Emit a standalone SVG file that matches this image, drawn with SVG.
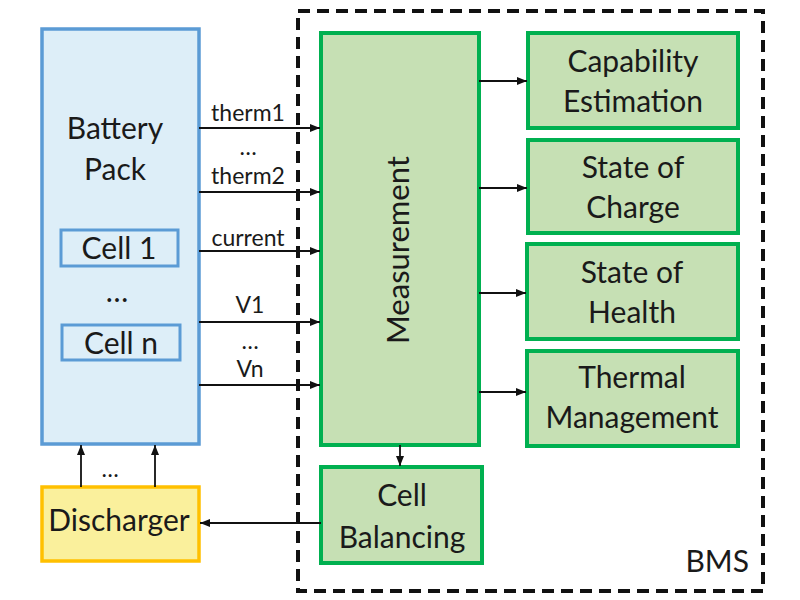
<svg xmlns="http://www.w3.org/2000/svg" width="800" height="600" viewBox="0 0 800 600">
<defs>
<marker id="ah" viewBox="0 0 10 10" refX="10" refY="5" markerWidth="10" markerHeight="10" markerUnits="userSpaceOnUse" orient="auto">
<path d="M0,1 L10,5 L0,9 Z" fill="#111"/>
</marker>
<style>
text{font-family:Lato,"Open Sans","Liberation Sans",sans-serif;fill:#1a1a1a;text-anchor:middle}
.big{font-size:30px}
.lbl{font-size:23px}
.blue{fill:#ddeef8;stroke:#5b9bd5;stroke-width:3.5}
.green{fill:#c6e0b4;stroke:#00b050;stroke-width:4}
.yellow{fill:#faf09c;stroke:#ffc000;stroke-width:3.5}
.conn{stroke:#111;stroke-width:1.8;fill:none;marker-end:url(#ah)}
</style>
</defs>
<rect width="800" height="600" fill="#fff"/>
<g id="bms">
<rect x="298" y="11" width="465" height="580" fill="none" stroke="#111" stroke-width="4" stroke-dasharray="12,7"/>
<text x="749" y="572" class="big" style="text-anchor:end">BMS</text>
</g>
<g id="battery-pack">
<rect x="42" y="29" width="157" height="415" class="blue"/>
<text x="115" y="139" class="big">Battery</text>
<text x="115" y="180" class="big">Pack</text>
<text x="117" y="302" class="big">…</text>
</g>
<g id="cell1">
<rect x="61" y="230" width="117" height="36" class="blue" style="stroke-width:3"/>
<text x="119" y="259" class="big">Cell 1</text>
</g>
<g id="celln">
<rect x="62" y="325" width="118" height="35" class="blue" style="stroke-width:3"/>
<text x="121" y="354" class="big">Cell n</text>
</g>
<g id="measurement">
<rect x="321" y="33" width="158" height="412" class="green"/>
<text transform="translate(409,250) rotate(-90)" class="big" style="font-size:31px">Measurement</text>
</g>
<g id="capability">
<rect x="528" y="33" width="210" height="95" class="green"/>
<text x="633" y="72" class="big">Capability</text>
<text x="633" y="112" class="big">Estimation</text>
</g>
<g id="soc">
<rect x="528" y="140" width="210" height="93" class="green"/>
<text x="633" y="178" class="big">State of</text>
<text x="633" y="218" class="big">Charge</text>
</g>
<g id="soh">
<rect x="527" y="244" width="211" height="95" class="green"/>
<text x="632" y="283" class="big">State of</text>
<text x="632" y="323" class="big">Health</text>
</g>
<g id="thermal">
<rect x="527" y="351" width="211" height="95" class="green"/>
<text x="632" y="388" class="big">Thermal</text>
<text x="632" y="428" class="big">Management</text>
</g>
<g id="cell-balancing">
<rect x="321" y="467" width="161" height="96" class="green"/>
<text x="402" y="506" class="big">Cell</text>
<text x="402" y="548" class="big">Balancing</text>
</g>
<g id="discharger">
<rect x="42" y="487" width="157" height="74" class="yellow"/>
<text x="119" y="531" class="big">Discharger</text>
</g>
<g id="connectors">
<line x1="199" y1="128" x2="320" y2="128" class="conn"/>
<line x1="199" y1="192" x2="320" y2="192" class="conn"/>
<line x1="199" y1="251" x2="320" y2="251" class="conn"/>
<line x1="199" y1="322" x2="320" y2="322" class="conn"/>
<line x1="199" y1="385" x2="320" y2="385" class="conn"/>
<line x1="479" y1="81" x2="527" y2="81" class="conn"/>
<line x1="479" y1="188" x2="527" y2="188" class="conn"/>
<line x1="479" y1="293" x2="526" y2="293" class="conn"/>
<line x1="479" y1="392" x2="526" y2="392" class="conn"/>
<line x1="400" y1="445" x2="400" y2="466" class="conn"/>
<line x1="321" y1="523" x2="200" y2="523" class="conn"/>
<line x1="81" y1="487" x2="81" y2="445" class="conn"/>
<line x1="155" y1="487" x2="155" y2="445" class="conn"/>
<text x="248" y="121" class="lbl">therm1</text>
<text x="248" y="155" class="lbl">…</text>
<text x="248" y="184" class="lbl">therm2</text>
<text x="248" y="246" class="lbl">current</text>
<text x="250" y="313" class="lbl">V1</text>
<text x="250" y="349" class="lbl">…</text>
<text x="250" y="377" class="lbl">Vn</text>
<text x="110" y="477" class="lbl">…</text>
</g>
</svg>
